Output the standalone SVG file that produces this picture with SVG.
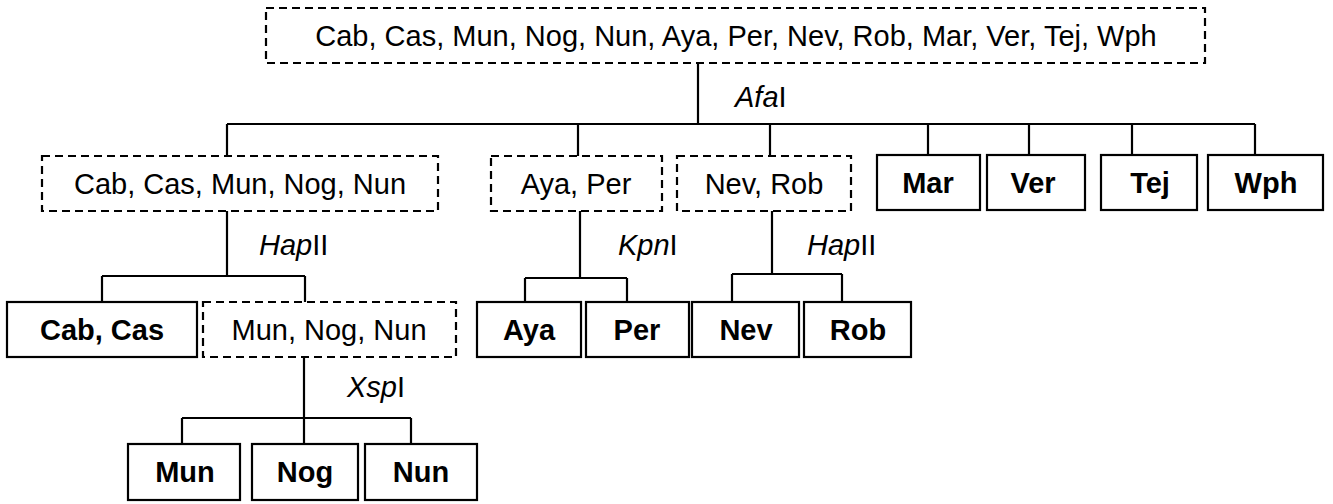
<svg xmlns="http://www.w3.org/2000/svg" width="1333" height="504" viewBox="0 0 1333 504">
<style>
.bg{fill:#fff}
.solid{fill:#fff;stroke:#000;stroke-width:2.2}
.dash{fill:#fff;stroke:#000;stroke-width:2.2;stroke-dasharray:8 5}
.t{font-family:"Liberation Sans",Arial,sans-serif;font-size:29px;fill:#000;text-anchor:middle}
.b{font-weight:bold}
.lab{font-family:"Liberation Sans",Arial,sans-serif;font-size:29px;fill:#000}
.con{fill:none;stroke:#000;stroke-width:2.2}
</style>
<rect class="bg" x="0" y="0" width="1333" height="504"/>
<g id="connectors">
<path class="con" d="M698 63V124M227 124H1255M227 124V156M578 124V156M770 124V156M928 124V155M1029 124V155M1132 124V155M1255 124V155"/>
<path class="con" d="M227 211V276M102 276H305M102 276V302M305 276V302"/>
<path class="con" d="M580 211V278M525 278H627M525 278V302M627 278V302"/>
<path class="con" d="M772 211V274M732 274H842M732 274V302M842 274V302"/>
<path class="con" d="M304 357V444M182 418H411M182 418V444M411 418V444"/>
</g>
<g id="labels">
<text class="lab" x="735" y="107"><tspan font-style="italic">Afa</tspan>I</text>
<text class="lab" x="259" y="255"><tspan font-style="italic">Hap</tspan>II</text>
<text class="lab" x="618" y="255"><tspan font-style="italic">Kpn</tspan>I</text>
<text class="lab" x="807" y="255"><tspan font-style="italic">Hap</tspan>II</text>
<text class="lab" x="347" y="397"><tspan font-style="italic">Xsp</tspan>I</text>
</g>
<g id="n-all"><rect class="dash" x="266" y="8" width="939" height="55"/><text class="t" x="736" y="46">Cab, Cas, Mun, Nog, Nun, Aya, Per, Nev, Rob, Mar, Ver, Tej, Wph</text></g>
<g id="n-ccmnn"><rect class="dash" x="42" y="156" width="396" height="55"/><text class="t" x="240" y="194">Cab, Cas, Mun, Nog, Nun</text></g>
<g id="n-ayaper"><rect class="dash" x="491" y="156" width="171" height="55"/><text class="t" x="576" y="194">Aya, Per</text></g>
<g id="n-nevrob"><rect class="dash" x="677" y="156" width="174" height="55"/><text class="t" x="764" y="194">Nev, Rob</text></g>
<g id="n-mar"><rect class="solid" x="877" y="155" width="103" height="55"/><text class="t b" x="928" y="193">Mar</text></g>
<g id="n-ver"><rect class="solid" x="987" y="155" width="98" height="55"/><text class="t b" x="1033" y="193">Ver</text></g>
<g id="n-tej"><rect class="solid" x="1101" y="155" width="96" height="55"/><text class="t b" x="1150" y="193">Tej</text></g>
<g id="n-wph"><rect class="solid" x="1208" y="155" width="115" height="55"/><text class="t b" x="1266" y="193">Wph</text></g>
<g id="n-cabcas"><rect class="solid" x="7" y="302" width="190" height="55"/><text class="t b" x="102" y="340">Cab, Cas</text></g>
<g id="n-mnn"><rect class="dash" x="203" y="302" width="253" height="55"/><text class="t" x="329" y="340">Mun, Nog, Nun</text></g>
<g id="n-aya"><rect class="solid" x="477" y="302" width="104" height="55"/><text class="t b" x="529" y="340">Aya</text></g>
<g id="n-per"><rect class="solid" x="586" y="302" width="103" height="55"/><text class="t b" x="637" y="340">Per</text></g>
<g id="n-nev"><rect class="solid" x="692" y="302" width="107" height="55"/><text class="t b" x="746" y="340">Nev</text></g>
<g id="n-rob"><rect class="solid" x="804" y="302" width="107" height="55"/><text class="t b" x="858" y="340">Rob</text></g>
<g id="n-mun"><rect class="solid" x="128" y="444" width="112" height="56"/><text class="t b" x="185" y="482">Mun</text></g>
<g id="n-nog"><rect class="solid" x="252" y="444" width="106" height="56"/><text class="t b" x="305" y="482">Nog</text></g>
<g id="n-nun"><rect class="solid" x="365" y="444" width="112" height="56"/><text class="t b" x="421" y="482">Nun</text></g>
</svg>
